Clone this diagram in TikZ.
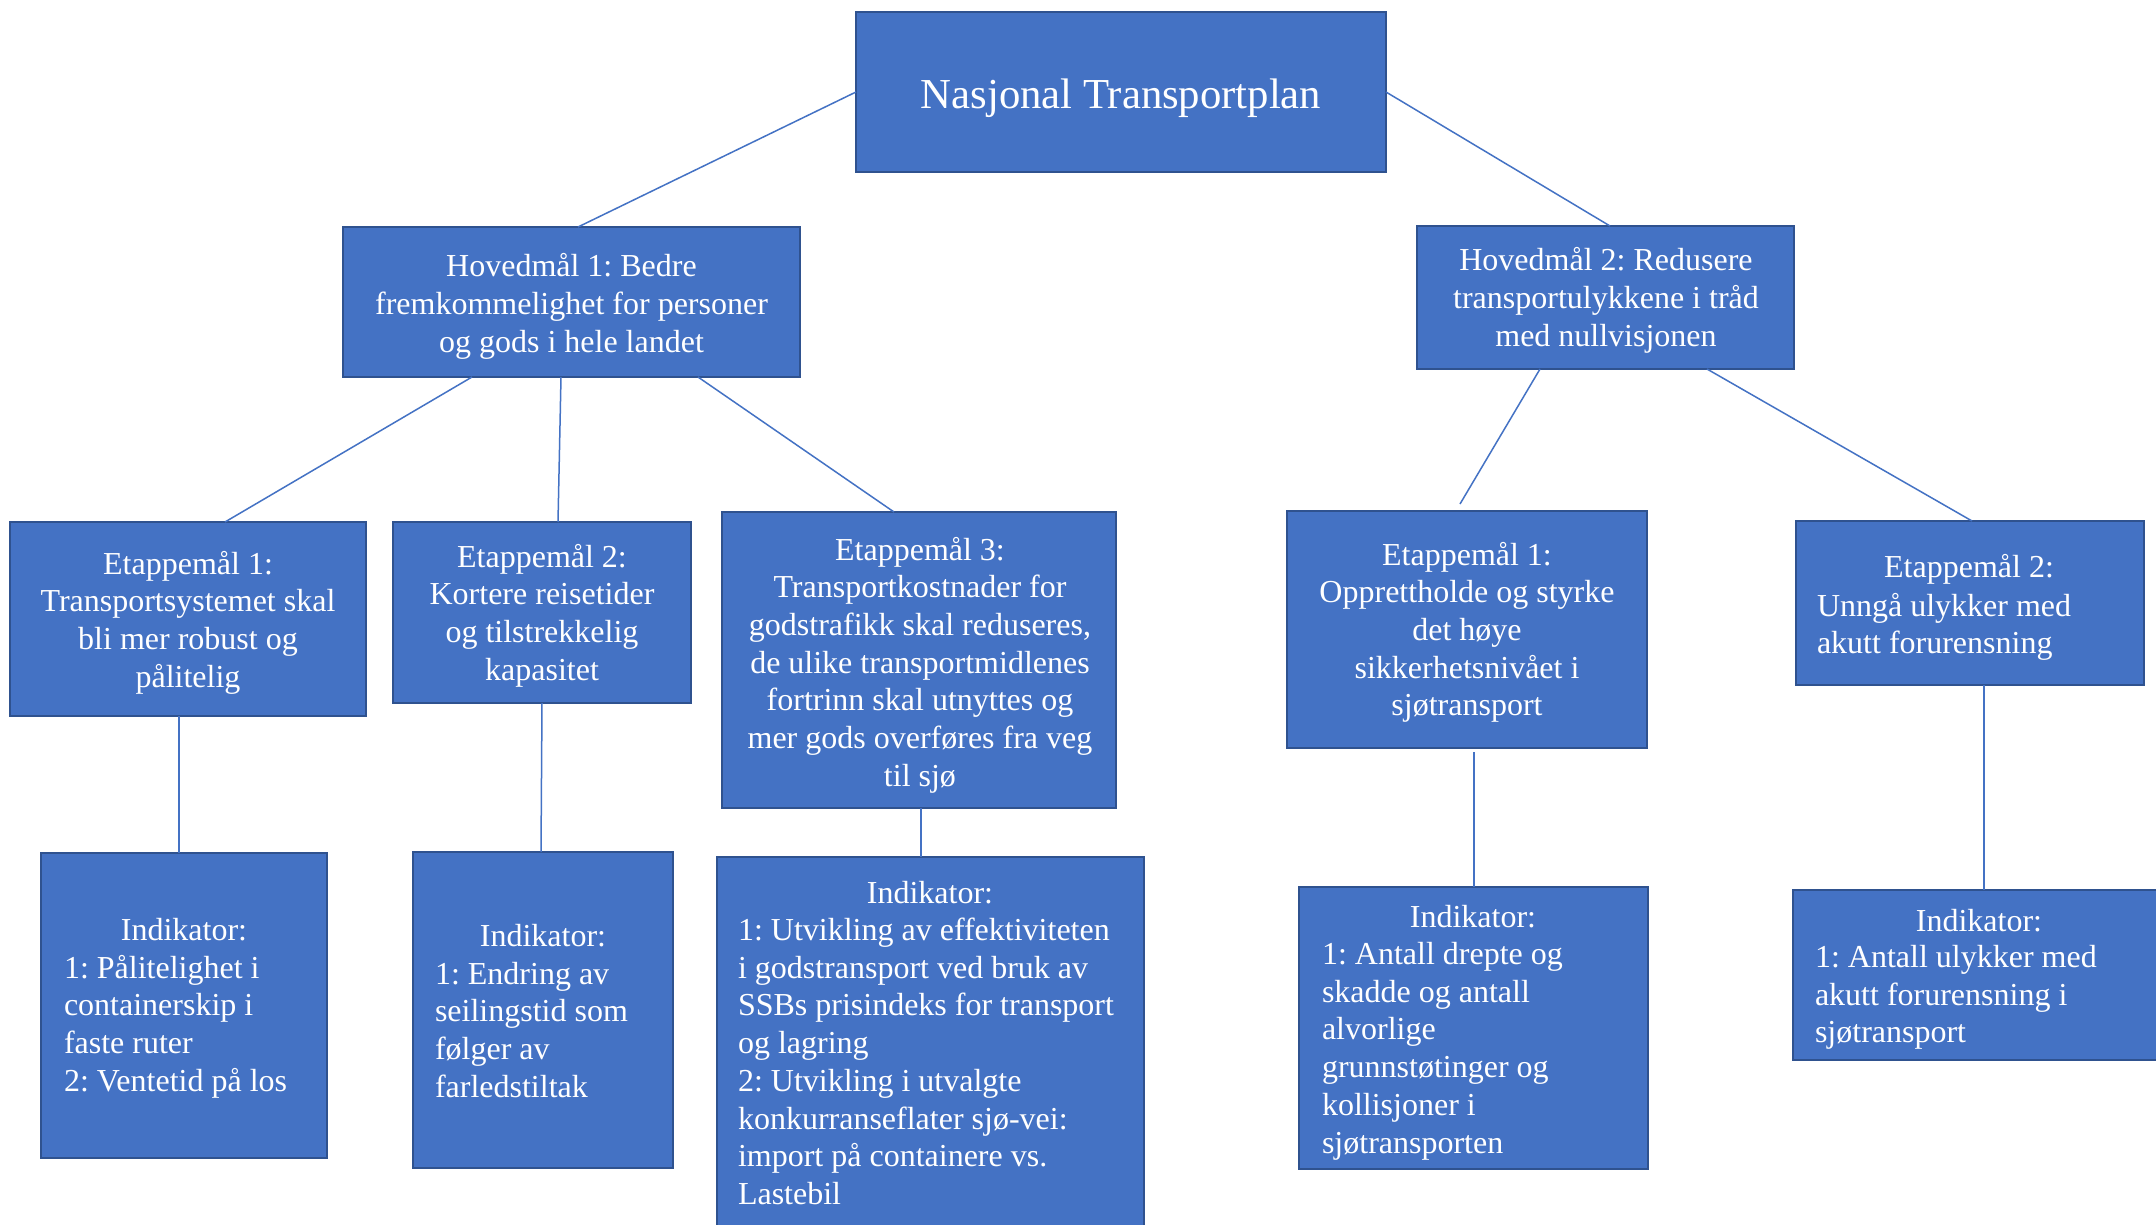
\documentclass[tikz,border=0pt]{standalone}
\usepackage{fontspec}
\setmainfont{Liberation Serif}
\usetikzlibrary{calc}
\definecolor{boxfill}{HTML}{4472C4}
\definecolor{boxline}{HTML}{2F528F}
\definecolor{conn}{HTML}{4472C4}
\tikzset{
  box/.style={draw=boxline, fill=boxfill, line width=2.5pt, inner sep=0pt, outer sep=0pt, rectangle},
  txt/.style={text=white, inner sep=0pt, outer sep=0pt, font=\fontsize{32}{37.7}\selectfont\frenchspacing},
  ctxt/.style={txt, align=center, anchor=north},
  ltxt/.style={txt, align=left, anchor=north west},
  hdr/.style={txt, anchor=base},
  conline/.style={draw=conn, line width=1.5pt}
}
\begin{document}
\begin{tikzpicture}[x=1pt,y=-1pt]
\useasboundingbox (0,0) rectangle (2156,1224);
\fill[white] (0,0) rectangle (2156,1224);
\clip (0,0) rectangle (2156,1224);

% boxes
\node[box, minimum width=530, minimum height=160] (t) at (1121,92) {};
\node[box, minimum width=457, minimum height=150] (h1) at (571.5,302) {};
\node[box, minimum width=377, minimum height=143] (h2) at (1605.5,297.5) {};
\node[box, minimum width=356, minimum height=194] (e1l) at (188,619) {};
\node[box, minimum width=298, minimum height=181] (e2l) at (542,612.5) {};
\node[box, minimum width=394, minimum height=296] (e3) at (919,660) {};
\node[box, minimum width=360, minimum height=237] (e1r) at (1467,629.5) {};
\node[box, minimum width=348, minimum height=164] (e2r) at (1970,603) {};
\node[box, minimum width=286, minimum height=305] (i1) at (184,1005.5) {};
\node[box, minimum width=260, minimum height=316] (i2) at (543,1010) {};
\node[box, minimum width=427, minimum height=383] (i3) at (930.5,1048.5) {};
\node[box, minimum width=349, minimum height=282] (i4) at (1473.5,1028) {};
\node[box, minimum width=372, minimum height=170] (i5) at (1979,975) {};

% connectors
\draw[conline] (t.west) -- ([xshift=6.5pt]h1.north);
\draw[conline] (t.east) -- ([xshift=4.5pt]h2.north);
\draw[conline] ([xshift=-99.5pt]h1.south) -- ([xshift=37pt]e1l.north);
\draw[conline] ([xshift=-10.5pt]h1.south) -- ([xshift=16pt]e2l.north);
\draw[conline] ([xshift=126.5pt]h1.south) -- ([xshift=-25pt]e3.north);
\draw[conline] ([xshift=-65.5pt]h2.south) -- ([xshift=-7pt,yshift=7pt]e1r.north);
\draw[conline] ([xshift=101.5pt]h2.south) -- ([xshift=2pt]e2r.north);
\draw[conline] ([xshift=-9pt]e1l.south) -- ([xshift=-5pt]i1.north);
\draw[conline] (e2l.south) -- ([xshift=-2pt]i2.north);
\draw[conline] ([xshift=2pt]e3.south) -- ([xshift=-9.5pt]i3.north);
\draw[conline] ([xshift=7pt,yshift=-4pt]e1r.south) -- ([xshift=0.5pt]i4.north);
\draw[conline] ([xshift=14pt]e2r.south) -- ([xshift=5pt]i5.north);

% texts (north anchor = first baseline - 26.39)
\node[txt, anchor=base, font=\fontsize{42.7}{49}\selectfont] (tt) at (1121,108) {Nasjonal Transportplan};
\node[ctxt] (h1t) at (571.5,250.6) {\strut Hovedmål 1: Bedre\\fremkommelighet for personer\\og gods i hele landet};
\node[ctxt] (h2t) at (1606,244.6) {\strut Hovedmål 2: Redusere\\transportulykkene i tråd\\med nullvisjonen};
\node[ctxt] (e1lt) at (188,547.6) {\strut Etappemål 1:\\Transportsystemet skal\\bli mer robust og\\pålitelig};
\node[ctxt] (e2lt) at (542,540.6) {\strut Etappemål 2:\\Kortere reisetider\\og tilstrekkelig\\kapasitet};
\node[ctxt] (e3t) at (920,533.6) {\strut Etappemål 3:\\Transportkostnader for\\godstrafikk skal reduseres,\\de ulike transportmidlenes\\fortrinn skal utnyttes og\\mer gods overføres fra veg\\til sjø};
\node[ctxt] (e1rt) at (1467,538.6) {\strut Etappemål 1:\\Opprettholde og styrke\\det høye\\sikkerhetsnivået i\\sjøtransport};
\node[hdr] (e2rh) at (1969,577) {Etappemål 2:};
\node[ltxt] (e2rt) at (1817,589.6) {\strut Unngå ulykker med\\akutt forurensning};

\node[hdr] (i1h) at (184,940) {Indikator:};
\node[ltxt] (i1t) at (64,951.6) {\strut 1: Pålitelighet i\\containerskip i\\faste ruter\\2: Ventetid på los};
\node[hdr] (i2h) at (543,946) {Indikator:};
\node[ltxt] (i2t) at (435,957.6) {\strut 1: Endring av\\seilingstid som\\følger av\\farledstiltak};
\node[hdr] (i3h) at (930,903) {Indikator:};
\node[ltxt] (i3t) at (738,914.1) {\strut 1: Utvikling av effektiviteten\\i godstransport ved bruk av\\SSBs prisindeks for transport\\og lagring\\2: Utvikling i utvalgte\\konkurranseflater sjø-vei:\\import på containere vs.\\Lastebil};
\node[hdr] (i4h) at (1473,927) {Indikator:};
\node[ltxt] (i4t) at (1322,938.1) {\strut 1: Antall drepte og\\skadde og antall\\alvorlige\\grunnstøtinger og\\kollisjoner i\\sjøtransporten};
\node[hdr] (i5h) at (1979,931) {Indikator:};
\node[ltxt] (i5t) at (1815,941.1) {\strut 1: Antall ulykker med\\akutt forurensning i\\sjøtransport};
\end{tikzpicture}
\end{document}
